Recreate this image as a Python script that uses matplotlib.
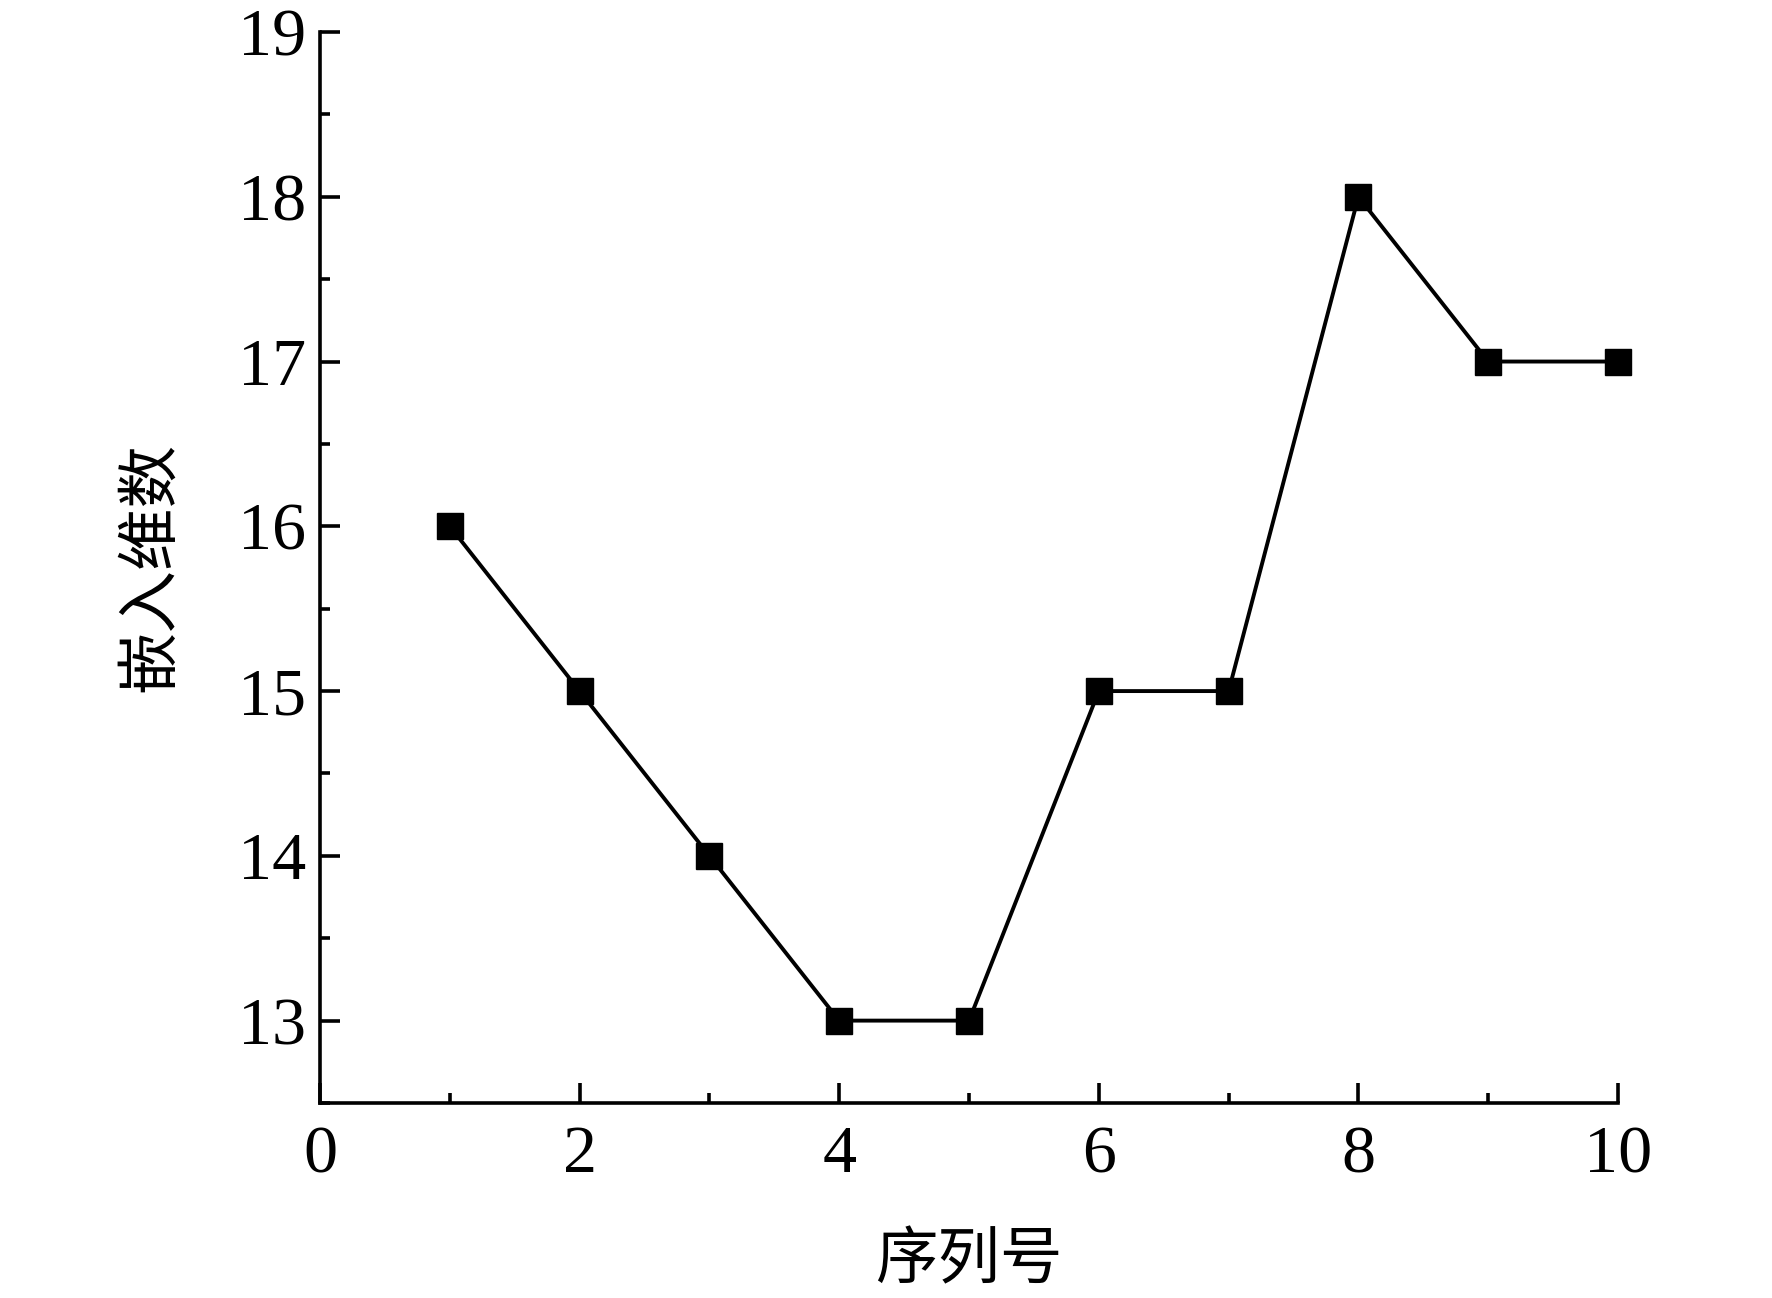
import matplotlib
matplotlib.use("Agg")
import matplotlib.pyplot as plt
from matplotlib.ticker import MultipleLocator

# Data
seq_no = [1, 2, 3, 4, 5, 6, 7, 8, 9, 10]
embed_dim = [16, 15, 14, 13, 13, 15, 15, 18, 17, 17]
x_label = "序列号"
y_label = "嵌入维数"

plt.rcParams['font.family'] = ['Liberation Serif', 'DejaVu Serif']

fig = plt.figure(figsize=(17.72, 12.98), dpi=100)
ax = fig.add_axes([320/1772, 1 - 1103/1298, (1618-320)/1772, (1103-32)/1298])

ax.plot(seq_no, embed_dim, color='black', linewidth=2.8, marker='s',
        markersize=19, markerfacecolor='black', markeredgecolor='black',
        clip_on=False, zorder=3)

ax.set_xlim(0, 10)
ax.set_ylim(12.5, 19)
ax.xaxis.set_major_locator(MultipleLocator(2))
ax.xaxis.set_minor_locator(MultipleLocator(1))
ax.yaxis.set_minor_locator(MultipleLocator(0.5))
ax.set_yticks([13, 14, 15, 16, 17, 18, 19])

for s in ['top', 'right']:
    ax.spines[s].set_visible(False)
for s in ['left', 'bottom']:
    ax.spines[s].set_linewidth(2.6)

ax.tick_params(which='major', direction='in', length=14.4, width=2.6,
               labelsize=49, pad=10)
ax.tick_params(axis='x', which='major', pad=16)
ax.tick_params(which='minor', direction='in', length=7.2, width=2.6)

cjk = ['Noto Sans CJK SC', 'DejaVu Sans']
ax.set_xlabel(x_label, family=cjk, fontsize=45, va='center')
ax.set_ylabel(y_label, family=cjk, fontsize=45, va='center')
ax.xaxis.set_label_coords(0.5, (1103 - 1260) / 1071)
ax.yaxis.set_label_coords((150 - 320) / 1298, 0.5)

fig.savefig("out.png", dpi=100)
